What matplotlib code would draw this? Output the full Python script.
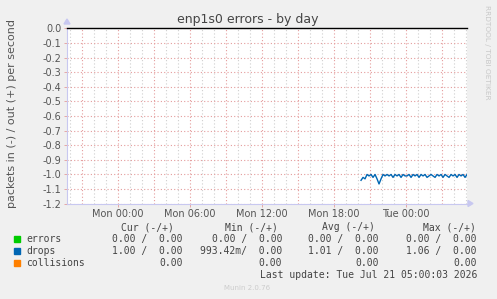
import matplotlib
matplotlib.use("Agg")
import matplotlib.pyplot as plt
import numpy as np

W, H = 497, 299

# ---- data ----
title = "enp1s0 errors - by day"
ylabel = "packets in (-) / out (+) per second"
yticks = [0.0, -0.1, -0.2, -0.3, -0.4, -0.5, -0.6, -0.7, -0.8, -0.9, -1.0, -1.1, -1.2]
xtick_hours = [0, 6, 12, 18, 24]
xtick_labels = ["Mon 00:00", "Mon 06:00", "Mon 12:00", "Mon 18:00", "Tue 00:00"]

drops_start_h = 20.25       # Mon 20:15
drops_step_h = 1 / 6        # 10 minutes
drops_in = [-1.04, -1.02, -1.03, -1.00, -1.01, -1.00, -1.02, -1.00, -1.03, -1.065,
            -1.03, -1.00, -1.01, -1.00, -1.01, -1.00, -1.02, -1.00, -1.01, -1.00,
            -1.02, -1.00, -1.01, -1.01, -1.00, -1.02, -1.00, -1.01, -1.00, -1.02,
            -1.00, -1.01, -1.00, -1.02, -1.01, -1.00, -1.01, -1.02, -1.00, -1.01,
            -1.00, -1.02, -1.00, -1.01, -1.02, -1.00, -1.01, -1.00, -1.02, -1.00,
            -1.01, -1.00, -1.02, -1.00]
zero_line_hours = [-4.25, 29.08]
zero_line_vals = [0.0, 0.0]

legend_names = ["errors", "drops", "collisions"]
legend_colors = ["#00cc00", "#0066b3", "#ff8000"]
col_headers = ["Cur (-/+)", "Min (-/+)", "Avg (-/+)", "Max (-/+)"]
rows = [
    ["0.00 /  0.00", "0.00 /  0.00", "0.00 /  0.00", "0.00 /  0.00"],
    ["1.00 /  0.00", "993.42m/  0.00", "1.01 /  0.00", "1.06 /  0.00"],
    ["0.00", "0.00", "0.00", "0.00"],
]
last_update = "Last update: Tue Jul 21 05:00:03 2026"
footer = "Munin 2.0.76"
side_text = "RRDTOOL / TOBI OETIKER"

# ---- figure ----
fig = plt.figure(figsize=(W / 100, H / 100), dpi=100, facecolor="#f0f0f0")

def fx(x):
    return x / W

def fy(y):
    return 1 - y / H

ax_l, ax_r, ax_t, ax_b = 67, 467, 28.3, 203.7
ax = fig.add_axes([fx(ax_l), fy(ax_b), (ax_r - ax_l) / W, (ax_b - ax_t) / H])
ax.set_facecolor("white")
ax.set_xlim(-4.25, 29.08)
ax.set_ylim(-1.2, 0.0)

# grid
minor_c = "#cfcfcf"
major_c = "#e49c9c"
for h in np.arange(-4, 30, 1):
    if h % 3 != 0:
        ax.axvline(h, color=minor_c, lw=0.8, ls=(0, (1, 2)), zorder=1)
for h in np.arange(-3, 30, 3):
    ax.axvline(h, color=major_c, lw=0.8, ls=(0, (1, 2)), zorder=1)
for v in yticks:
    ax.axhline(v, color=major_c, lw=0.8, ls=(0, (1, 2)), zorder=1)

t = drops_start_h + drops_step_h * np.arange(len(drops_in))
ax.plot(t, drops_in, color=legend_colors[1], lw=1.0, zorder=3)
ax.plot(zero_line_hours, zero_line_vals, color="black", lw=1.0, zorder=4, clip_on=False)

for s in ["top", "right"]:
    ax.spines[s].set_visible(False)
for s in ["left", "bottom"]:
    ax.spines[s].set_color("#c8c8f0")
    ax.spines[s].set_linewidth(0.8)

ax.set_yticks(yticks)
ax.set_yticklabels([f"{v:.1f}" for v in yticks])
ax.set_xticks(xtick_hours)
ax.set_xticklabels(xtick_labels)
ax.tick_params(axis="both", labelsize=7, colors="#555555", length=2, width=0.6, pad=2)
ax.tick_params(axis="x", color=major_c)
ax.tick_params(axis="y", color=major_c)

# axis arrows
fig.patches.append(plt.Polygon([[fx(64), fy(24)], [fx(70), fy(24)], [fx(67), fy(19)]],
                               closed=True, transform=fig.transFigure, color="#c8c8f0"))
fig.patches.append(plt.Polygon([[fx(468), fy(200.5)], [fx(468), fy(206.5)], [fx(473), fy(203.5)]],
                               closed=True, transform=fig.transFigure, color="#c8c8f0"))

fig.text(fx(248), fy(19), title, ha="center", va="center", fontsize=9, color="#444444")
fig.text(fx(12), fy(114), ylabel, ha="center", va="center", rotation=90, fontsize=8, color="#555555")
fig.text(fx(487), fy(5), side_text, ha="center", va="top", rotation=270, fontsize=5.3, color="#c8c8c8")

mono = "DejaVu Sans Mono"
fs = 7
txtc = "#444444"
header_right = [174, 278, 375, 476]
val_right = [183, 282, 379, 477]
for hdr, xr in zip(col_headers, header_right):
    fig.text(fx(xr), fy(227), hdr, ha="right", va="center", family=mono, fontsize=fs, color=txtc)
row_y = [239, 251, 263]
for name, col, vals, y in zip(legend_names, legend_colors, rows, row_y):
    fig.patches.append(plt.Rectangle((fx(14), fy(y + 3)), 6 / W, 6 / H,
                                     transform=fig.transFigure, color=col))
    fig.text(fx(26), fy(y), name, ha="left", va="center", family=mono, fontsize=fs, color=txtc)
    for v, xr in zip(vals, val_right):
        fig.text(fx(xr), fy(y), v, ha="right", va="center", family=mono, fontsize=fs, color=txtc)
fig.text(fx(477), fy(275.5), last_update, ha="right", va="center", family=mono, fontsize=fs, color=txtc)
fig.text(fx(247), fy(288.5), footer, ha="center", va="center", fontsize=5, color="#cccccc")

fig.savefig("out.png", dpi=100, facecolor=fig.get_facecolor())
